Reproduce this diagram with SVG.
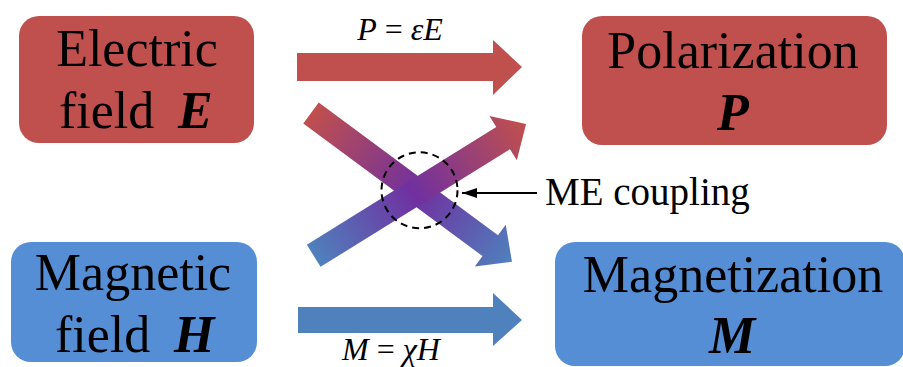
<svg xmlns="http://www.w3.org/2000/svg" width="903" height="367" viewBox="0 0 903 367">
<style>
  text { font-family: "Liberation Serif", "DejaVu Serif", serif; fill: #000; }
  .lbl { font-size: 52px; }
  .var { font-size: 52px; font-weight: bold; font-style: italic; }
  .eq { font-size: 32px; }
  .eq .i { font-style: italic; }
  .me { font-size: 39px; }
  .red { fill: #C0504D; }
  .blue { fill: #558ED5; }
</style>
<defs>
  <linearGradient id="gA" x1="0" y1="0" x2="1" y2="0">
    <stop offset="0" stop-color="#C0504D"/>
    <stop offset="0.53" stop-color="#7030A0"/>
    <stop offset="1" stop-color="#4F81BD"/>
  </linearGradient>
  <linearGradient id="gB" x1="0" y1="0" x2="1" y2="0">
    <stop offset="0" stop-color="#4F81BD"/>
    <stop offset="0.47" stop-color="#7030A0"/>
    <stop offset="1" stop-color="#C0504D"/>
  </linearGradient>
  <polygon id="diag" points="0,-13 223,-13 223,-26 250,0 223,26 223,13 0,13"/>
  <marker id="ah" markerWidth="15" markerHeight="10" refX="15" refY="5" orient="auto" markerUnits="userSpaceOnUse">
    <path d="M0,0 L15,5 L0,10 Z" fill="#000"/>
  </marker>
</defs>

<g id="connectors">
  <polygon points="297,53 493,53 493,40 522,67 493,95 493,81 297,81" fill="#C0504D"/>
  <polygon points="298,307 493,307 493,293 522,320 493,346 493,333 298,333" fill="#4F81BD"/>
  <use href="#diag" fill="url(#gA)" transform="translate(311,113) rotate(36.5)"/>
  <use href="#diag" fill="url(#gB)" transform="translate(313.7,255.8) rotate(-31.85)"/>
  <circle cx="419.5" cy="190.3" r="38" fill="none" stroke="#000" stroke-width="2" stroke-dasharray="7,5"/>
  <line x1="537" y1="193" x2="462" y2="193" stroke="#000" stroke-width="2" marker-end="url(#ah)"/>
  <text class="eq" x="400" y="40" text-anchor="middle"><tspan class="i">P</tspan> = <tspan class="i">εE</tspan></text>
  <text class="eq" x="391" y="360" text-anchor="middle"><tspan class="i">M</tspan> = <tspan class="i">χH</tspan></text>
  <text class="me" x="545" y="205">ME coupling</text>
</g>

<g id="electric">
  <rect class="red" x="19" y="16" width="235" height="127" rx="20"/>
  <text class="lbl" x="137" y="66" text-anchor="middle">Electric</text>
  <text class="lbl" x="59" y="128">field</text>
  <text class="var" x="178" y="128">E</text>
</g>

<g id="polarization">
  <rect class="red" x="582" y="16" width="305" height="129" rx="20"/>
  <text class="lbl" x="733" y="68" text-anchor="middle">Polarization</text>
  <text class="var" x="733" y="130" text-anchor="middle">P</text>
</g>

<g id="magnetic">
  <rect class="blue" x="11" y="242" width="246" height="120" rx="20"/>
  <text class="lbl" x="133" y="290" text-anchor="middle">Magnetic</text>
  <text class="lbl" x="55" y="352">field</text>
  <text class="var" x="174" y="352">H</text>
</g>

<g id="magnetization">
  <rect class="blue" x="555" y="242" width="350" height="124" rx="20"/>
  <text class="lbl" x="733" y="292" text-anchor="middle">Magnetization</text>
  <text class="var" x="732" y="353" text-anchor="middle">M</text>
</g>
</svg>
